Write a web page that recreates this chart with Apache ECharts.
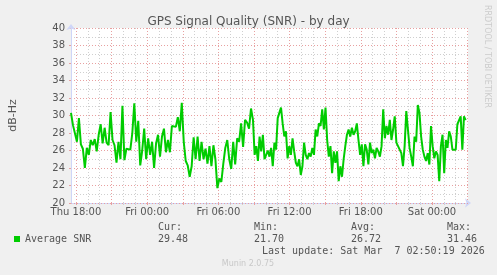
<!DOCTYPE html>
<html>
<head>
<meta charset="utf-8">
<script src="https://cdn.jsdelivr.net/npm/echarts@6/dist/echarts.min.js"></script>
<style>
html,body{margin:0;padding:0;background:#F0F0F0;}
#chart{width:497px;height:275px;}
</style>
</head>
<body>
<div id="chart"></div>
<script>
// ---- data ----
const titleText = 'GPS Signal Quality (SNR) - by day';
const seriesName = 'Average SNR';
const unitName = 'dB-Hz';
// segment 1: from Thu 17:35 UTC, one sample every 10 minutes
const seg1Start = Date.UTC(2026, 2, 5, 17, 35);
const seg1StepMin = 10;
const seg1Values = [
  30.3, 28.9, 29.0, 27.0, 29.7, 26.7, 26.2, 24.0, 26.3, 25.5,
  27.2, 26.6, 27.3, 25.9, 27.8, 29.0, 26.8, 28.6, 26.9, 26.6,
  30.4, 27.2, 26.6, 24.6, 27.0, 25.0, 31.1, 24.9, 26.2, 26.0,
  26.1, 28.0, 31.4, 27.0, 29.4, 24.3, 26.0, 28.5, 25.0, 27.4,
  25.5, 27.0, 24.0, 26.8, 27.8, 25.3, 27.6, 28.5, 25.8, 27.2,
  25.8, 28.8, 29.0, 28.7, 29.8, 28.2, 31.46, 27.0, 24.8, 24.3,
  23.0, 24.2, 27.5, 25.0, 27.6, 24.8, 27.0, 25.0, 26.2, 24.5,
  26.5, 24.2, 26.6, 25.0, 21.7, 22.8, 22.4, 24.5, 26.3, 27.2,
  25.0, 23.9, 27.0, 24.4, 27.4, 27.0, 29.1, 26.4, 29.5, 29.2,
  28.5, 30.8
];
// segment 2: from Fri 08:55 UTC, one sample every 500 seconds
const seg2Start = Date.UTC(2026, 2, 6, 8, 55);
const seg2StepSec = 500;
const seg2Values = [
  29.5, 25.5, 26.5, 24.8, 27.6, 25.9, 27.8, 25.0, 24.8, 26.0,
  25.3, 26.3, 24.2, 26.9, 26.1, 29.7, 29.5, 30.9, 29.1, 27.6,
  28.2, 25.1, 26.5, 25.5, 27.4, 25.9, 24.6, 24.2, 25.0, 23.2,
  24.2, 26.9, 25.5, 25.0, 25.7, 25.3, 26.3, 25.5, 28.4, 27.6,
  29.1, 28.8, 30.7, 28.4, 30.9, 27.2, 25.3, 26.5, 23.4, 25.9,
  24.6, 25.9, 22.5, 24.2, 23.0, 25.0, 26.5, 27.8, 28.4, 27.6,
  28.6, 27.8, 28.2, 29.1, 27.2, 25.5, 26.7, 24.2, 26.7, 26.1,
  24.4, 26.9, 25.7, 26.1, 25.1, 26.3, 25.9, 25.3, 26.5, 30.7,
  27.4, 28.8, 27.8, 29.5, 27.2, 28.4, 29.9, 26.9, 26.5, 26.7,
  25.7, 24.2, 26.5, 30.5, 28.4, 26.3, 25.3, 24.2, 27.6, 27.0,
  31.2, 30.3, 27.6, 26.1, 25.3, 24.8, 25.7, 24.4, 28.8, 26.5,
  25.1, 25.9, 25.5, 22.5, 26.5, 27.8, 23.4, 27.2, 26.3, 28.2,
  27.6, 26.1, 26.3, 26.1, 29.0, 29.1, 29.9, 26.1, 29.9, 29.48
];
const axisStart = Date.UTC(2026, 2, 5, 17, 35);
const axisEnd = Date.UTC(2026, 2, 7, 3, 2);
const firstMajorTick = Date.UTC(2026, 2, 5, 18, 0);
const yMin = 20, yMax = 40, yStep = 2;
const statLabels = ['Cur:', 'Min:', 'Avg:', 'Max:'];
const statValues = ['29.48', '21.70', '26.72', '31.46'];
const lastUpdate = 'Last update: Sat Mar  7 02:50:19 2026';
const footerText = 'Munin 2.0.75';
const sideText = 'RRDTOOL / TOBI OETIKER';
const dayNames = ['Sun', 'Mon', 'Tue', 'Wed', 'Thu', 'Fri', 'Sat'];

// ---- build ----
const HOUR = 3600 * 1000;
const data = [];
seg1Values.forEach((v, i) => data.push([seg1Start + i * seg1StepMin * 60000, v]));
seg2Values.forEach((v, i) => data.push([seg2Start + i * seg2StepSec * 1000, v]));

function timesEvery(from, stepH, to) {
  const out = [];
  for (let t = from; t <= to; t += stepH * HOUR) out.push(t);
  return out;
}
const majorTicks = timesEvery(firstMajorTick, 3, axisEnd);
const minorTicks = timesEvery(firstMajorTick, 1, axisEnd);
const labelTicks = timesEvery(firstMajorTick, 6, axisEnd);
function fmtTime(v) {
  const d = new Date(v);
  const hh = String(d.getUTCHours()).padStart(2, '0');
  const mm = String(d.getUTCMinutes()).padStart(2, '0');
  return dayNames[d.getUTCDay()] + ' ' + hh + ':' + mm;
}

const FONT = 'DejaVu Sans';
const MONO = 'DejaVu Sans Mono';
const TXT = '#555555';
const AXIS = '#CFD6F8';
const MGRID = '#E8A0A0';
const GRID = '#CFCFCF';

const chart = echarts.init(document.getElementById('chart'), null, {renderer: 'canvas'});
const graphics = [];
const statX = [158, 254, 351, 447];
statLabels.forEach((s, i) => {
  graphics.push({type: 'text', left: statX[i], top: 222, style: {text: s, font: '10px ' + MONO, fill: TXT}});
  graphics.push({type: 'text', left: statX[i], top: 234, style: {text: statValues[i], font: '10px ' + MONO, fill: TXT}});
});
graphics.push({type: 'text', left: 262, top: 246, style: {text: lastUpdate, font: '10px ' + MONO, fill: TXT}});
graphics.push({type: 'text', x: 248, y: 264, style: {text: footerText, font: '8px ' + FONT, fill: '#C8C8C8', align: 'center', verticalAlign: 'middle'}});
graphics.push({type: 'text', x: 487, y: 5, rotation: -Math.PI / 2, style: {text: sideText, font: '8px ' + FONT, fill: '#CCCCCC', align: 'left', verticalAlign: 'middle'}});

chart.setOption({
  backgroundColor: '#F0F0F0',
  animation: false,
  title: {
    text: titleText, left: 'center', top: 11,
    textStyle: {fontFamily: FONT, fontSize: 12, fontWeight: 'normal', color: TXT}
  },
  legend: {
    data: [seriesName], left: 14, top: 234, padding: 0,
    icon: 'rect', itemWidth: 6, itemHeight: 6,
    textStyle: {fontFamily: MONO, fontSize: 10, color: TXT}
  },
  grid: {left: 67, right: 29, top: 28, bottom: 72, show: true, backgroundColor: '#FFFFFF', borderWidth: 0},
  xAxis: [{
    type: 'value', min: axisStart, max: axisEnd, position: 'bottom', z: 2,
    axisLine: {show: true, lineStyle: {color: AXIS, width: 1}, symbol: ['none', 'arrow'], symbolSize: [7, 6], symbolOffset: [0, 3]},
    axisTick: {show: true, length: 2, inside: false, customValues: majorTicks, lineStyle: {color: MGRID}},
    axisLabel: {customValues: labelTicks, formatter: fmtTime, margin: 4, fontFamily: FONT, fontSize: 10, color: TXT},
    splitLine: {show: true, lineStyle: {color: MGRID, type: [1, 2], width: 1}}
  }, {
    type: 'value', min: axisStart, max: axisEnd, position: 'bottom', z: 1,
    axisLine: {show: false},
    axisTick: {show: true, length: 2, customValues: minorTicks, lineStyle: {color: GRID}},
    axisLabel: {show: false},
    splitLine: {show: true, lineStyle: {color: GRID, type: [1, 2], width: 1}}
  }],
  yAxis: {
    type: 'value', min: yMin, max: yMax, interval: yStep, z: 3,
    name: unitName, nameLocation: 'middle', nameGap: 52, nameRotate: 90,
    nameTextStyle: {fontFamily: FONT, fontSize: 11, color: TXT},
    axisLine: {show: true, lineStyle: {color: AXIS, width: 1}, symbol: ['none', 'arrow'], symbolSize: [7, 6], symbolOffset: [0, 4]},
    axisTick: {show: true, length: 2, lineStyle: {color: MGRID}},
    axisLabel: {margin: 6, fontFamily: FONT, fontSize: 10, color: TXT},
    splitLine: {show: true, lineStyle: {color: MGRID, type: [1, 2], width: 1}},
    minorTick: {show: false, splitNumber: 2},
    minorSplitLine: {show: true, lineStyle: {color: GRID, type: [1, 2], width: 1}}
  },
  series: [{
    name: seriesName, type: 'line', xAxisIndex: 0, data: data,
    showSymbol: false, symbol: 'none', z: 5,
    lineStyle: {color: '#00CC00', width: 2},
    itemStyle: {color: '#00CC00'}
  }],
  graphic: graphics
});
</script>
</body>
</html>
